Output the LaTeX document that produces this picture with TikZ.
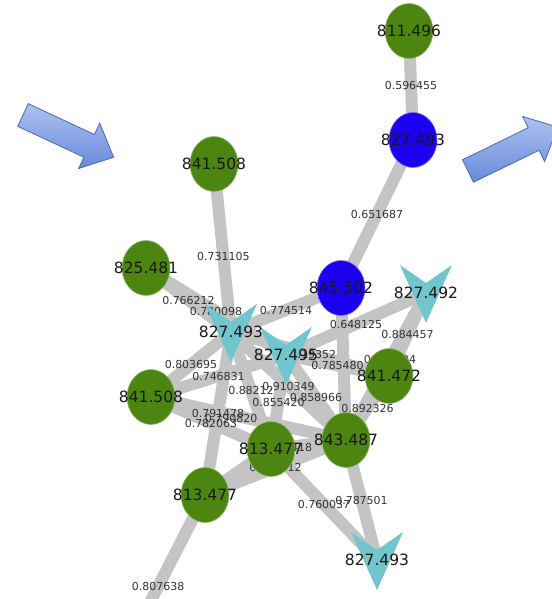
\documentclass[tikz,border=0pt]{standalone}
\usepackage{fontspec}
\setmainfont{DejaVu Sans}
\usetikzlibrary{shapes,arrows}
\pgfdeclarelayer{edges}
\pgfdeclarelayer{elabels}
\pgfdeclarelayer{shapes}
\pgfsetlayers{edges,elabels,shapes,main}
\definecolor{mzgreen}{RGB}{76,134,16}
\definecolor{mzblue}{RGB}{28,0,240}
\definecolor{mzcyan}{RGB}{112,198,204}
\definecolor{edgegray}{RGB}{196,196,196}
\definecolor{arrowtop}{RGB}{172,194,240}
\definecolor{arrowbot}{RGB}{104,138,218}
\definecolor{arrowrim}{RGB}{84,108,184}
\tikzstyle{peak} = [ellipse, fill=mzgreen, draw=mzgreen!60!white, line width=0.6pt, minimum width=48pt, minimum height=55pt, inner sep=0pt]
\tikzstyle{hub} = [peak, fill=mzblue, draw=mzblue!60!white]
\tikzstyle{nlabel} = [font=\fontsize{15.5}{16}\selectfont, text=black!90, inner sep=0pt]
\tikzstyle{elabel} = [font=\fontsize{11}{11}\selectfont, text=black!80, inner sep=0pt]
\tikzstyle{line} = [draw=edgegray, line width=12pt]
\tikzstyle{vfill} = [fill=mzcyan]
\tikzstyle{bigarrow} = [draw=arrowrim, line width=0.8pt, top color=arrowtop, bottom color=arrowbot]
\newcommand{\conn}[4][0.5]{%
  \begin{pgfonlayer}{edges}\path[line] (#2.center) -- (#3.center);\end{pgfonlayer}%
  \begin{pgfonlayer}{elabels}\path (#2.center) -- node[elabel,pos=#1] {#4} (#3.center);\end{pgfonlayer}}
\newcommand{\vmark}[1]{%
  \begin{pgfonlayer}{shapes}\fill[vfill] (#1.center) ++(-26,-28) -- ++(26,18) -- ++(26,-18) -- ++(-26,58) -- cycle;\end{pgfonlayer}}

\begin{document}
\begin{tikzpicture}[x=1pt,y=-1pt]
\useasboundingbox (0,0) rectangle (551,599);
\filldraw[bigarrow, shift={(23,115)}, rotate=-25] (0,-12.5) -- (73,-12.5) -- (73,-25) -- (100,0) -- (73,25) -- (73,12.5) -- (0,12.5) -- cycle;
\filldraw[bigarrow, shift={(468,171)}, rotate=26] (0,-12.5) -- (73,-12.5) -- (73,-25) -- (100,0) -- (73,25) -- (73,12.5) -- (0,12.5) -- cycle;

\node[peak, label={[nlabel]center:811.496}] (a811) at (409,31) {};
\node[hub, label={[nlabel]center:827.493}] (b827) at (413,140) {};
\node[peak, label={[nlabel]center:841.508}] (c841) at (214,164) {};
\node[peak, label={[nlabel]center:825.481}] (d825) at (146,268) {};
\node[hub, label={[nlabel]center:845.502}] (e845) at (341,288) {};
\node[nlabel] (f827) at (426,293) {827.492};
\node[nlabel] (g827) at (231,332) {827.493};
\node[nlabel] (h827) at (286,355) {827.495};
\node[peak, label={[nlabel]center:841.472}] (i841) at (389,376) {};
\node[peak, label={[nlabel]center:841.508}] (j841) at (151,397) {};
\node[peak, label={[nlabel]center:843.487}] (k843) at (346,440) {};
\node[peak, label={[nlabel]center:813.477}] (l813) at (271,449) {};
\node[peak, label={[nlabel]center:813.477}] (m813) at (205,495) {};
\node[nlabel] (n827) at (377,560) {827.493};
\coordinate (offm) at (140,622);
\vmark{f827}
\vmark{g827}
\vmark{h827}
\vmark{n827}

\conn{a811}{b827}{0.596455}
\conn{b827}{e845}{0.651687}
\conn[0.55]{c841}{g827}{0.731105}
\conn{d825}{g827}{0.766212}
\conn{d825}{h827}{0.780098}
\conn{e845}{g827}{0.774514}
\conn{e845}{k843}{}
\conn{f827}{h827}{0.648125}
\conn{f827}{i841}{0.884457}
\conn[0.45]{f827}{k843}{0.830104}
\conn[{0.39,yshift=-5pt,xshift=4pt}]{j841}{k843}{0.790820}
\conn{g827}{j841}{0.803695}
\conn{h827}{j841}{0.746831}
\conn{g827}{l813}{0.88212}
\conn{g827}{k843}{0.910349}
\conn{g827}{i841}{0.819352}
\conn{h827}{l813}{0.855420}
\conn{h827}{i841}{0.785480}
\conn{h827}{k843}{0.858966}
\conn{i841}{k843}{0.892326}
\conn{m813}{g827}{0.791478}
\conn{j841}{l813}{0.782063}
\conn[0.2]{l813}{k843}{0.837418}
\conn{m813}{k843}{0.806212}
\conn{m813}{l813}{}
\conn{l813}{n827}{0.760037}
\conn{k843}{n827}{0.787501}
\conn[0.72]{m813}{offm}{0.807638}
\end{tikzpicture}
\end{document}
